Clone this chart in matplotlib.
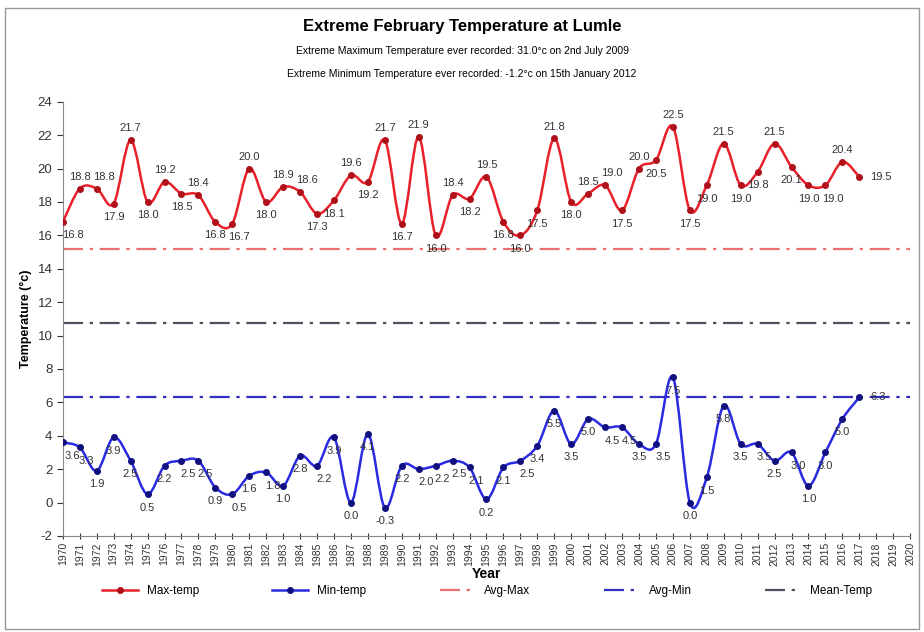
import numpy as np
import matplotlib
matplotlib.use('Agg')
import matplotlib.pyplot as plt
from matplotlib.path import Path
from matplotlib.patches import PathPatch, Rectangle
from matplotlib.lines import Line2D

plt.rcParams['font.family'] = ['Liberation Sans', 'DejaVu Sans']
plt.rcParams['axes.unicode_minus'] = False

years = list(range(1970, 2018))
max_temp = [16.8, 18.8, 18.8, 17.9, 21.7, 18.0, 19.2, 18.5, 18.4, 16.8,
            16.7, 20.0, 18.0, 18.9, 18.6, 17.3, 18.1, 19.6, 19.2, 21.7,
            16.7, 21.9, 16.0, 18.4, 18.2, 19.5, 16.8, 16.0, 17.5, 21.8,
            18.0, 18.5, 19.0, 17.5, 20.0, 20.5, 22.5, 17.5, 19.0, 21.5,
            19.0, 19.8, 21.5, 20.1, 19.0, 19.0, 20.4, 19.5]
min_temp = [3.6, 3.3, 1.9, 3.9, 2.5, 0.5, 2.2, 2.5, 2.5, 0.9,
            0.5, 1.6, 1.8, 1.0, 2.8, 2.2, 3.9, 0.0, 4.1, -0.3,
            2.2, 2.0, 2.2, 2.5, 2.1, 0.2, 2.1, 2.5, 3.4, 5.5,
            3.5, 5.0, 4.5, 4.5, 3.5, 3.5, 7.5, 0.0, 1.5, 5.8,
            3.5, 3.5, 2.5, 3.0, 1.0, 3.0, 5.0, 6.3]
avg_max = 15.2
avg_min = 6.3
mean_temp = 10.75
year_ticks = list(range(1970, 2021))

MAX_C = '#e8202a'
MAX_M = '#b0101a'
MIN_C = '#2a2ae0'
MIN_M = '#101080'
DASH = (0, (9, 3, 1.5, 3))


def smooth_path(x, y):
    """Catmull-Rom curve through the points, as cubic bezier segments"""
    pts = np.column_stack([x, y]).astype(float)
    verts = [pts[0]]
    codes = [Path.MOVETO]
    n = len(pts)
    for i in range(n - 1):
        p0 = pts[max(i - 1, 0)]
        p1 = pts[i]
        p2 = pts[i + 1]
        p3 = pts[min(i + 2, n - 1)]
        c1 = p1 + (p2 - p0) / 6.0
        c2 = p2 - (p3 - p1) / 6.0
        verts += [c1, c2, p2]
        codes += [Path.CURVE4] * 3
    return Path(verts, codes)


def draw_series(ax, x, y, line_c, mark_c, rule):
    ax.add_patch(PathPatch(smooth_path(x, y), facecolor='none',
                           edgecolor=line_c, lw=1.8, zorder=3))
    ax.plot(x, y, ls='none', marker='o', ms=4, color=mark_c, zorder=4)
    last_side = None
    for i, (xx, yy) in enumerate(zip(x, y)):
        if i == len(y) - 1:
            ax.annotate(f"{yy:.1f}", (xx, yy), xytext=(8, 0),
                        textcoords='offset points', ha='left', va='center',
                        fontsize=8, color='#333333')
            continue
        if rule == 'below':
            above = False
        else:
            nb = [y[j] for j in (i - 1, i + 1) if 0 <= j < len(y)]
            above = yy >= np.mean(nb)
        # nudge neighbouring labels on the same side apart
        dx = 0
        if i == 0:
            dx = 7
        elif last_side == above and abs(y[i - 1] - yy) < 0.6:
            dx = 5
        last_side = above
        off = (dx, 5) if above else (dx, -6)
        ax.annotate(f"{yy:.1f}", (xx, yy), xytext=off,
                    textcoords='offset points', ha='center',
                    va='bottom' if above else 'top',
                    fontsize=8, color='#333333')


fig = plt.figure(figsize=(9.24, 6.32), dpi=100)
ax = fig.add_axes([0.068, 0.152, 0.917, 0.687])

draw_series(ax, years, max_temp, MAX_C, MAX_M, 'peak')
draw_series(ax, years, min_temp, MIN_C, MIN_M, 'below')

ax.axhline(avg_max, color='#e87070', ls=DASH, lw=1.6, zorder=2)
ax.axhline(avg_min, color='#3030c0', ls=DASH, lw=1.6, zorder=2)
ax.axhline(mean_temp, color='#505060', ls=DASH, lw=1.6, zorder=2)

ax.set_xlim(year_ticks[0], year_ticks[-1])
ax.set_ylim(-2, 24)
ax.set_yticks(range(-2, 25, 2))
ax.set_xticks(year_ticks)
ax.set_xticklabels([str(y) for y in year_ticks], rotation=90, fontsize=7.5)
ax.tick_params(axis='y', labelsize=9.5, direction='out', length=4,
               colors='#333333')
ax.tick_params(axis='x', direction='inout', length=5, pad=2,
               colors='#333333')
for s in ['top', 'right']:
    ax.spines[s].set_visible(False)
for s in ['left', 'bottom']:
    ax.spines[s].set_color('#888888')

ax.set_xlabel('Year', fontsize=10, fontweight='bold', labelpad=1)
ax.set_ylabel('Temperature (°c)', fontsize=9, fontweight='bold', labelpad=4)

fig.text(0.5, 0.958, 'Extreme February Temperature at Lumle', ha='center',
         va='center', fontsize=12, fontweight='bold')
fig.text(0.5, 0.92, 'Extreme Maximum Temperature ever recorded: 31.0°c on 2nd July 2009',
         ha='center', va='center', fontsize=7.5)
fig.text(0.5, 0.883, 'Extreme Minimum Temperature ever recorded: -1.2°c on 15th January 2012',
         ha='center', va='center', fontsize=7.5)

handles = [
    Line2D([], [], color=MAX_C, marker='o', mfc=MAX_M, mec=MAX_M, ms=4, lw=1.8),
    Line2D([], [], color=MIN_C, marker='o', mfc=MIN_M, mec=MIN_M, ms=4, lw=1.8),
    Line2D([], [], color='#e87070', ls=DASH, lw=1.6),
    Line2D([], [], color='#3030c0', ls=DASH, lw=1.6),
    Line2D([], [], color='#505060', ls=DASH, lw=1.6),
]
fig.legend(handles, ['Max-temp', 'Min-temp', 'Avg-Max', 'Avg-Min', 'Mean-Temp'],
           loc='center', bbox_to_anchor=(0.527, 0.065), ncol=5, frameon=False,
           fontsize=8.5, columnspacing=6.2, handlelength=3)

fig.add_artist(Rectangle((0.005, 0.005), 0.99, 0.982, transform=fig.transFigure,
                         fill=False, edgecolor='#999999', lw=1))

fig.savefig('out.png', dpi=100)
